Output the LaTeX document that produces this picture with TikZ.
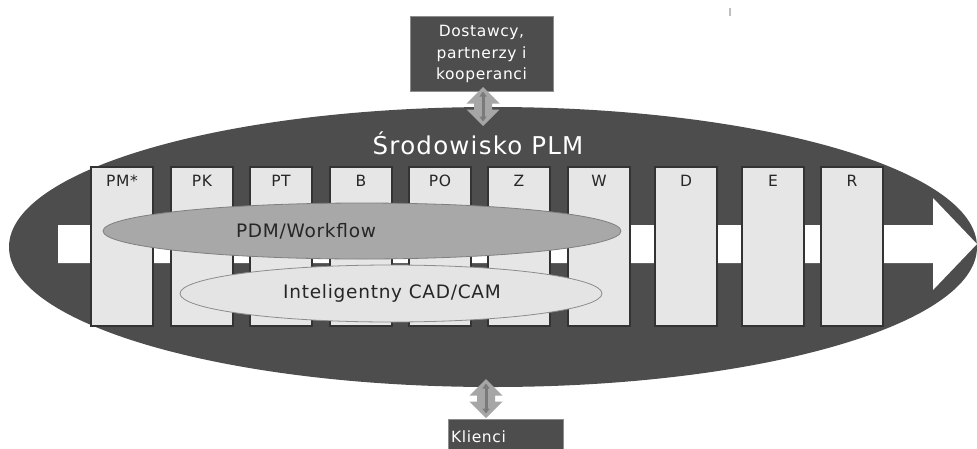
\documentclass[tikz,border=0pt]{standalone}
\usepackage{fontspec}
\setmainfont{DejaVu Sans}
\newfontfamily\lblfont[LetterSpace=4]{DejaVu Sans}
\newfontfamily\ttlfont[LetterSpace=5]{DejaVu Sans}
\usetikzlibrary{shapes.geometric,arrows.meta,calc}
\definecolor{darkbg}{HTML}{4D4D4D}
\definecolor{boxfill}{HTML}{E6E6E6}
\definecolor{boxline}{HTML}{333333}
\definecolor{pdmfill}{HTML}{A8A8A8}
\definecolor{pdmline}{HTML}{7F7F7F}
\definecolor{cadfill}{HTML}{E4E4E4}
\definecolor{cadline}{HTML}{8C8C8C}
\definecolor{arrfill}{HTML}{A6A6A6}
\definecolor{arrstem}{HTML}{7A7A7A}
\tikzset{
  stagebox/.style={draw=boxline, line width=1.3pt, fill=boxfill, minimum width=62pt, minimum height=159pt, inner sep=0pt},
  stagelbl/.style={font=\lblfont\fontsize{15.5}{17}\selectfont, text=black!85, inner sep=0pt},
  darkbox/.style={draw=cadline, line width=1pt, fill=darkbg, inner sep=0pt},
  whitetxt/.style={text=white, font=\lblfont\fontsize{15.5}{17}\selectfont, inner sep=0pt},
  ovaltxt/.style={font=\lblfont\fontsize{18.5}{20}\selectfont, text=black!85, inner sep=0pt},
  blockarrow/.style={fill=arrfill},
  stemline/.style={draw=arrstem, line width=3pt, {Triangle[width=7pt,length=5pt]}-{Triangle[width=7pt,length=5pt]}},
}
\begin{document}
\begin{tikzpicture}[x=1pt,y=-1pt]
\useasboundingbox (0,0) rectangle (977,448);
\fill[white] (0,0) rectangle (977,448);
% tiny mark
\draw[black!25, line width=1.5pt] (730,8) -- (730,16);
% main ellipse
\node[ellipse, fill=darkbg, minimum width=968pt, minimum height=280pt, inner sep=0pt] (plm) at (493,247) {};
\node[text=white, font=\ttlfont\fontsize{24.5}{27}\selectfont, inner sep=0pt] (title) at (478,143) {Środowisko PLM};
% white process arrow
\fill[white] (58,225) -- (933,225) -- (933,198) -- (977,244) -- (933,290) -- (933,263) -- (58,263) -- cycle;
% stages
\foreach \nm/\cx/\lb in {pm/122/PM*, pk/202/PK, pt/281/PT, b/361/B, po/440/PO, z/519/Z, w/599/W, d/686/D, e/773/E, r/852/R}{
  \node[stagebox] (\nm) at (\cx,246.5) {};
  \node[stagelbl] (\nm lbl) at (\cx,181) {\lb};
}
% PDM ellipse
\node[ellipse, draw=pdmline, line width=0.8pt, fill=pdmfill, minimum width=518pt, minimum height=56pt, inner sep=0pt] (pdm) at (362,231) {};
\node[ovaltxt] (pdmtxt) at (306,231) {PDM/Workflow};
% CAD ellipse
\node[ellipse, draw=cadline, line width=0.8pt, fill=cadfill, minimum width=422pt, minimum height=57pt, inner sep=0pt] (cad) at (391,293.5) {};
\node[ovaltxt] (cadtxt) at (392,293.5) {Inteligentny CAD/CAM};
% top box
\node[darkbox, minimum width=143pt, minimum height=75pt] (supp) at (481.5,53.5) {};
\node[whitetxt] (s1) at (481.5,32) {Dostawcy,};
\node[whitetxt] (s2) at (481.5,54) {partnerzy i};
\node[whitetxt] (s3) at (481.5,75) {kooperanci};
% bottom box
\node[darkbox, minimum width=115pt, minimum height=60pt] (cli) at (505.5,449) {};
\node[whitetxt, anchor=west] (clitxt) at (451,437) {Klienci};
% double arrows
\coordinate (ua) at (483,106.5);
\coordinate (la) at (486,398.5);
\foreach \c in {ua,la}{
  \fill[blockarrow] ($(\c)+(0,-19.5)$) -- ($(\c)+(16.5,-3)$) -- ($(\c)+(9,-3)$) -- ($(\c)+(9,3)$) -- ($(\c)+(16.5,3)$) -- ($(\c)+(0,19.5)$) -- ($(\c)+(-16.5,3)$) -- ($(\c)+(-9,3)$) -- ($(\c)+(-9,-3)$) -- ($(\c)+(-16.5,-3)$) -- cycle;
  \draw[stemline] ($(\c)+(0,-15)$) -- ($(\c)+(0,15)$);
}
\end{tikzpicture}
\end{document}
